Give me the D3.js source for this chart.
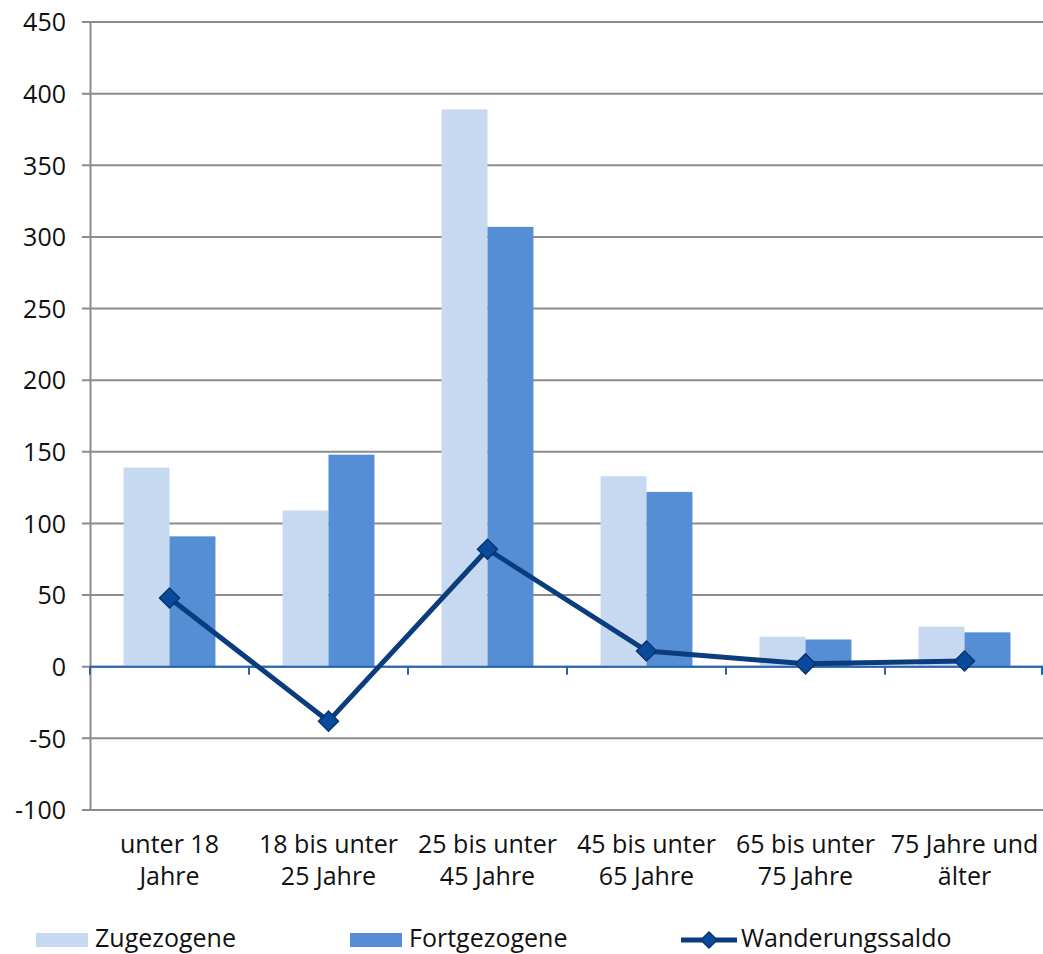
<!DOCTYPE html>
<html><head><meta charset="utf-8">
<script src="https://cdn.jsdelivr.net/npm/d3@7"></script>
<style>
html,body{margin:0;padding:0;background:#fff;}
svg{display:block;font-family:"Open Sans",sans-serif;}
</style></head>
<body><svg id="c" width="1043" height="954"></svg>
<script>
const categories = [["unter 18","Jahre"],["18 bis unter","25 Jahre"],["25 bis unter","45 Jahre"],["45 bis unter","65 Jahre"],["65 bis unter","75 Jahre"],["75 Jahre und","älter"]];
const seriesNames = ["Zugezogene","Fortgezogene","Wanderungssaldo"];
const zugezogene = [139,109,389,133,21,28];
const fortgezogene = [91,148,307,122,19,24];
const saldo = [48,-38,82,11,2,4];
const yTicks = [-100,-50,0,50,100,150,200,250,300,350,400,450];

const svg = d3.select("#c");
const x0 = d3.scaleBand().domain(d3.range(categories.length)).range([90,1044]).padding(0);
const bw = x0.bandwidth();
const x1 = d3.scaleBand().domain([0,1]).range([bw*0.211, bw*0.789]).padding(0);
const y = d3.scaleLinear().domain([-100,450]).range([810,22]);

const cLight="#c6d9f1", cDark="#558ed5", cLine="#0b3d7e", cMarker="#0a4a9c";
const fs = 25;

// grid
svg.append("g").selectAll("line").data(yTicks).join("line")
  .attr("x1",82).attr("x2",1043).attr("y1",d=>y(d)).attr("y2",d=>y(d))
  .attr("stroke","#8c8c8c").attr("stroke-width",2);
// y axis
const yAxis = d3.axisLeft(y).tickValues(yTicks).tickSize(0).tickPadding(24).tickFormat(d=>String(d));
const ga = svg.append("g").attr("transform","translate(90,0)").call(yAxis);
ga.select(".domain").attr("stroke","#8c8c8c").attr("stroke-width",2);
ga.selectAll("text").attr("font-size",fs).attr("fill","#111").attr("font-family","Open Sans").attr("dy","0.35em");

// bars
const vals=[zugezogene,fortgezogene];
const cols=[cLight,cDark];
vals.forEach((arr,si)=>{
  svg.append("g").selectAll("rect").data(arr).join("rect")
    .attr("x",(d,i)=>x0(i)+x1(si)).attr("width",x1.bandwidth())
    .attr("y",d=>y(Math.max(0,d))).attr("height",d=>Math.abs(y(d)-y(0)))
    .attr("fill",cols[si]);
});

// zero line with ticks
svg.append("line").attr("x1",90).attr("x2",1043).attr("y1",y(0)).attr("y2",y(0))
  .attr("stroke","#2563b0").attr("stroke-width",2);
svg.append("g").selectAll("line").data(d3.range(categories.length+1)).join("line")
  .attr("x1",i=>i<categories.length?x0(i):1042).attr("x2",i=>i<categories.length?x0(i):1042)
  .attr("y1",y(0)).attr("y2",y(0)+8).attr("stroke","#2563b0").attr("stroke-width",2);

// saldo line
const line = d3.line().x((d,i)=>x0(i)+bw/2).y(d=>y(d));
svg.append("path").datum(saldo).attr("d",line).attr("fill","none")
  .attr("stroke",cLine).attr("stroke-width",5).attr("stroke-linejoin","round");
svg.append("g").selectAll("path").data(saldo).join("path")
  .attr("transform",(d,i)=>`translate(${x0(i)+bw/2},${y(d)}) rotate(45)`)
  .attr("d",d3.symbol().type(d3.symbolSquare).size(200))
  .attr("fill",cMarker).attr("stroke","#06356f").attr("stroke-width",1.5);

// category labels
const cl = svg.append("g").selectAll("text").data(categories).join("text")
  .attr("x",(d,i)=>x0(i)+bw/2).attr("text-anchor","middle")
  .attr("font-size",fs).attr("fill","#111");
cl.each(function(d){
  const t=d3.select(this);
  d.forEach((s,k)=>t.append("tspan").attr("x",t.attr("x")).attr("y",853+k*32).text(s));
});

// legend
const lg = svg.append("g");
const ly = 947;
lg.append("rect").attr("x",36).attr("y",933).attr("width",52).attr("height",14).attr("fill",cLight);
lg.append("text").attr("x",95).attr("y",ly).attr("font-size",fs).attr("fill","#111").text(seriesNames[0]);
lg.append("rect").attr("x",350).attr("y",933).attr("width",52).attr("height",14).attr("fill",cDark);
lg.append("text").attr("x",409).attr("y",ly).attr("font-size",fs).attr("fill","#111").text(seriesNames[1]);
lg.append("line").attr("x1",681).attr("x2",737).attr("y1",940).attr("y2",940).attr("stroke",cLine).attr("stroke-width",5);
lg.append("path").attr("transform","translate(709,940) rotate(45)").attr("d",d3.symbol().type(d3.symbolSquare).size(130))
  .attr("fill",cMarker).attr("stroke","#06356f").attr("stroke-width",1.5);
lg.append("text").attr("x",741).attr("y",ly).attr("font-size",fs).attr("fill","#111").text(seriesNames[2]);
</script></body></html>
